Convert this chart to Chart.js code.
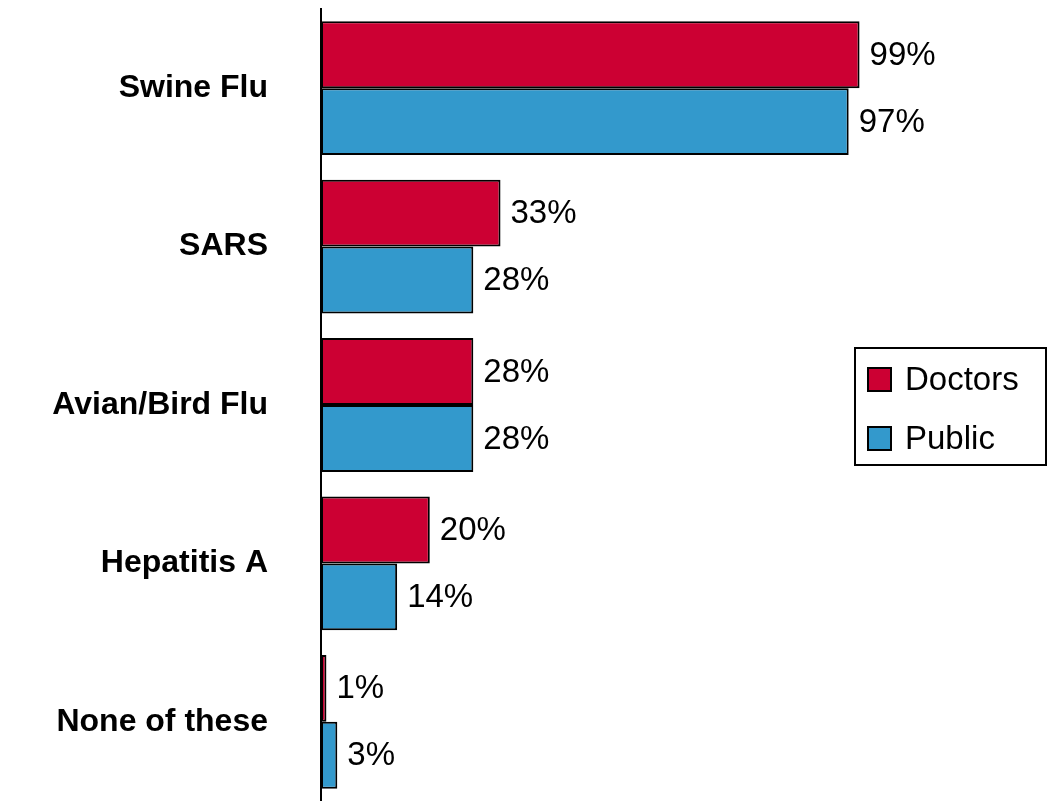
<!DOCTYPE html>
<html>
<head>
<meta charset="utf-8">
<script src="https://cdn.jsdelivr.net/npm/chart.js@4"></script>
<style>
    html, body { margin: 0; padding: 0; background: #fff; overflow: hidden; }
    #wrap { width: 1051px; height: 801px; }
</style>
</head>
<body>
<div id="wrap"><canvas id="fluChart"></canvas></div>
<script>
let categories = ['Swine Flu', 'SARS', 'Avian/Bird Flu', 'Hepatitis A', 'None of these'];
let doctorsValues = [99, 33, 28, 20, 1];
let publicValues = [97, 28, 28, 14, 3];
let seriesNames = ['Doctors', 'Public'];
let seriesColors = ['#CC0033', '#3399CC'];
let fontFamily = '"Liberation Sans", Arial, sans-serif';


// value labels to the right of each bar
const valueLabels = {
    id: 'valueLabels',
    afterDatasetsDraw(chart) {
        let ctx = chart.ctx;
        ctx.save();
        ctx.font = '33px ' + fontFamily;
        ctx.fillStyle = '#000';
        ctx.textAlign = 'left';
        ctx.textBaseline = 'middle';
        chart.data.datasets.forEach((ds, i) => {
            chart.getDatasetMeta(i).data.forEach((bar, j) => {
                ctx.fillText(ds.data[j] + '%', bar.x + 10, bar.y + 1);
            });
        });
        ctx.restore();
    }
};


// boxed legend at the right
const boxLegend = {
    id: 'boxLegend',
    afterDraw(chart) {
        let ctx = chart.ctx;
        ctx.save();
        ctx.lineWidth = 2;
        ctx.strokeStyle = '#000';
        ctx.strokeRect(855, 348, 191, 117);
        ctx.font = '33px ' + fontFamily;
        ctx.textAlign = 'left';
        ctx.textBaseline = 'middle';
        chart.data.datasets.forEach((ds, i) => {
            let y = 380 + i * 59;
            ctx.fillStyle = ds.backgroundColor;
            ctx.fillRect(868, y - 12, 23, 23);
            ctx.strokeRect(868, y - 12, 23, 23);
            ctx.fillStyle = '#000';
            ctx.fillText(ds.label, 905, y + 1);
        });
        ctx.restore();
    }
};


function createChart() {
    new Chart('fluChart', {
        type: 'bar',
        data: {
            labels: categories,
            datasets: [{
                label: seriesNames[0],
                data: doctorsValues,
                backgroundColor: seriesColors[0],
                borderColor: '#000',
                borderWidth: 2,
                borderSkipped: false
            }, {
                label: seriesNames[1],
                data: publicValues,
                backgroundColor: seriesColors[1],
                borderColor: '#000',
                borderWidth: 2,
                borderSkipped: false
            }]
        },
        options: {
            indexAxis: 'y',
            responsive: true,
            maintainAspectRatio: false,
            animation: false,
            layout: { padding: { left: 0, right: 186, top: 9, bottom: -4 } },
            categoryPercentage: 0.845,
            barPercentage: 1.0,
            plugins: {
                legend: { display: false },
                tooltip: { enabled: false }
            },
            scales: {
                x: {
                    display: false,
                    min: 0,
                    max: 100
                },
                y: {
                    grid: { display: false, drawTicks: false },
                    border: { display: true, color: '#000', width: 2 },
                    ticks: {
                        color: '#000',
                        padding: 53,
                        font: { family: fontFamily, size: 32, weight: 'bold' }
                    },
                    afterFit(scale) {
                        scale.width = 321;
                        scale.paddingTop = 0;
                        scale.paddingBottom = 0;
                    }
                }
            }
        },
        plugins: [valueLabels, boxLegend]
    });
}

createChart();
</script>
</body>
</html>
